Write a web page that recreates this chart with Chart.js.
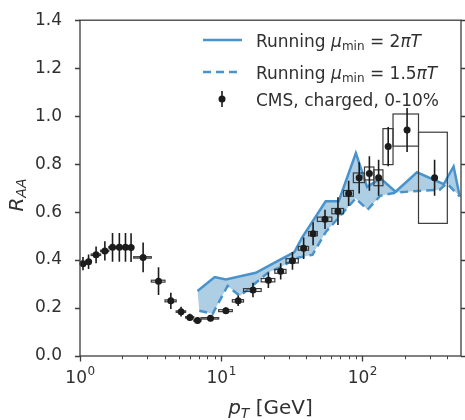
<!DOCTYPE html>
<html>
<head>
<meta charset="utf-8">
<script src="https://cdn.jsdelivr.net/npm/chart.js@4.4.1/dist/chart.umd.min.js"></script>
<style>
  html, body { margin: 0; padding: 0; background: #fff; }
  canvas { display: block; }
</style>
</head>
<body>
<canvas id="chart" width="465" height="420"></canvas>
<script>
// CMS charged-hadron R_AA, 0-10% centrality: pT bins (GeV), values, stat. and syst. uncertainties
const cmsBinLo = [1.0, 1.1, 1.2, 1.4, 1.6, 1.8, 2.0, 2.2, 2.4, 3.2, 4.0, 4.8, 5.6, 6.4, 7.2, 9.6,
                  12.0, 14.4, 19.2, 24.0, 28.8, 35.2, 41.6, 48.0, 60.8, 73.6, 86.4, 103.6, 120.8, 140, 165, 250];
const cmsBinHi = [1.1, 1.2, 1.4, 1.6, 1.8, 2.0, 2.2, 2.4, 3.2, 4.0, 4.8, 5.6, 6.4, 7.2, 9.6, 12.0,
                  14.4, 19.2, 24.0, 28.8, 35.2, 41.6, 48.0, 60.8, 73.6, 86.4, 103.6, 120.8, 140, 165, 250, 400];
const cmsPt    = [1.05, 1.15, 1.3, 1.5, 1.7, 1.9, 2.1, 2.3, 2.8, 3.6, 4.4, 5.2, 6.0, 6.8, 8.4, 10.8,
                  13.2, 16.8, 21.6, 26.4, 32.0, 38.4, 44.8, 54.4, 67.2, 80.0, 95.0, 112.2, 130.4, 152.5, 207.5, 325];
const cmsRaa   = [0.385, 0.393, 0.422, 0.438, 0.453, 0.453, 0.453, 0.452, 0.411, 0.312, 0.230, 0.185, 0.161, 0.148, 0.157, 0.189,
                  0.230, 0.275, 0.316, 0.353, 0.397, 0.449, 0.510, 0.570, 0.604, 0.678, 0.743, 0.761, 0.743, 0.873, 0.942, 0.743];
const cmsStat  = [0.028, 0.030, 0.035, 0.040, 0.060, 0.060, 0.060, 0.060, 0.062, 0.058, 0.034, 0.020, 0.015, 0.012, 0.012, 0.013,
                  0.022, 0.030, 0.032, 0.034, 0.037, 0.045, 0.048, 0.040, 0.058, 0.053, 0.065, 0.072, 0.075, 0.082, 0.092, 0.075];
const cmsSys   = [0.003, 0.003, 0.003, 0.003, 0.003, 0.003, 0.003, 0.003, 0.003, 0.004, 0.004, 0.003, 0.003, 0.003, 0.003, 0.004,
                  0.005, 0.006, 0.007, 0.008, 0.009, 0.008, 0.009, 0.009, 0.011, 0.012, 0.020, 0.027, 0.033, 0.075, 0.067, 0.190];

// Model curves: running coupling with mu_min = 2 pi T (solid) and 1.5 pi T (dashed)
const run2PiPt   = [6.8, 9.0, 10.8, 17.6, 25.8, 33, 37.5, 55, 68, 90, 108, 135, 172, 244, 377, 443, 490];
const run2PiRaa  = [0.271, 0.329, 0.319, 0.347, 0.400, 0.433, 0.495, 0.645, 0.645, 0.846, 0.705, 0.740, 0.685, 0.766, 0.716, 0.790, 0.665];
const run15PiPt  = [7.0, 8.7, 11.1, 13.6, 21.3, 27.2, 33.8, 44.3, 55.1, 70, 89.7, 109, 134, 176, 245, 353, 397, 490];
const run15PiRaa = [0.189, 0.176, 0.292, 0.250, 0.346, 0.374, 0.408, 0.422, 0.517, 0.585, 0.657, 0.610, 0.668, 0.682, 0.688, 0.693, 0.720, 0.665];

// Axis ticks
const yTickValues  = [0, 0.2, 0.4, 0.6, 0.8, 1.0, 1.2, 1.4];
const xTickValues  = [1, 10, 100];
const xTickBase    = '10';
const xTickExps    = ['0', '1', '2'];
const xMinorValues = [2, 3, 4, 5, 6, 7, 8, 9, 20, 30, 40, 50, 60, 70, 80, 90, 200, 300, 400];

const FONT = "'DejaVu Sans', 'Liberation Sans', sans-serif";
const INK = '#303030';
const MARK = '#1c1c1c';
const LINE_BLUE = '#4893cc';
const FILL_BLUE = 'rgba(31,119,180,0.36)';

Chart.defaults.font.family = FONT;
Chart.defaults.color = INK;

const toPoints = (xs, ys) => xs.map((x, i) => ({ x: x, y: ys[i] }));

// Shaded band between the two model curves
const modelBand = {
  id: 'modelBand',
  beforeDatasetsDraw(chart) {
    const { ctx, chartArea: a, scales: { x, y } } = chart;
    ctx.save();
    ctx.beginPath();
    ctx.rect(a.left, a.top, a.right - a.left, a.bottom - a.top);
    ctx.clip();
    ctx.beginPath();
    run2PiPt.forEach((p, i) => {
      const px = x.getPixelForValue(p), py = y.getPixelForValue(run2PiRaa[i]);
      if (i === 0) ctx.moveTo(px, py); else ctx.lineTo(px, py);
    });
    for (let i = run15PiPt.length - 1; i >= 0; i--) {
      ctx.lineTo(x.getPixelForValue(run15PiPt[i]), y.getPixelForValue(run15PiRaa[i]));
    }
    ctx.closePath();
    ctx.fillStyle = FILL_BLUE;
    ctx.fill();
    ctx.restore();
  }
};

// Stat. error bars and syst. boxes for the CMS points
const cmsErrors = {
  id: 'cmsErrors',
  beforeDatasetDraw(chart, args) {
    if (args.index !== 0) return;
    const { ctx, scales: { x, y } } = chart;
    ctx.save();
    ctx.strokeStyle = '#3a3a3a';
    ctx.lineWidth = 1.2;
    for (let i = 0; i < cmsPt.length; i++) {
      const x0 = x.getPixelForValue(cmsBinLo[i]);
      const x1 = x.getPixelForValue(cmsBinHi[i]);
      const y0 = y.getPixelForValue(cmsRaa[i] + cmsSys[i]);
      const y1 = y.getPixelForValue(cmsRaa[i] - cmsSys[i]);
      ctx.strokeRect(x0, y0, x1 - x0, y1 - y0);
    }
    ctx.strokeStyle = MARK;
    ctx.lineWidth = 1.6;
    ctx.beginPath();
    for (let i = 0; i < cmsPt.length; i++) {
      const px = x.getPixelForValue(cmsPt[i]);
      ctx.moveTo(px, y.getPixelForValue(cmsRaa[i] + cmsStat[i]));
      ctx.lineTo(px, y.getPixelForValue(cmsRaa[i] - cmsStat[i]));
    }
    ctx.stroke();
    ctx.restore();
  }
};

// Frame, tick marks, x tick labels, axis titles and legend
const decorations = {
  id: 'decorations',
  afterDraw(chart) {
    const { ctx, chartArea: a, scales: { x, y } } = chart;
    ctx.save();
    ctx.strokeStyle = '#3c3c3c';
    ctx.lineWidth = 1.3;
    ctx.strokeRect(a.left, a.top, a.right - a.left, a.bottom - a.top);

    ctx.beginPath();
    yTickValues.forEach(v => {
      const py = Math.round(y.getPixelForValue(v)) + 0.5;
      ctx.moveTo(a.left - 5, py); ctx.lineTo(a.left, py);
      ctx.moveTo(a.right, py); ctx.lineTo(a.right + 5, py);
    });
    xTickValues.forEach(v => {
      const px = Math.round(x.getPixelForValue(v)) + 0.5;
      ctx.moveTo(px, a.bottom); ctx.lineTo(px, a.bottom + 5.5);
    });
    ctx.stroke();
    ctx.lineWidth = 1;
    ctx.beginPath();
    xMinorValues.forEach(v => {
      const px = Math.round(x.getPixelForValue(v)) + 0.5;
      ctx.moveTo(px, a.bottom); ctx.lineTo(px, a.bottom + 3.2);
    });
    ctx.stroke();

    ctx.fillStyle = INK;
    ctx.textBaseline = 'alphabetic';

    // x tick labels: powers of ten
    xTickValues.forEach((v, i) => {
      ctx.font = '17px ' + FONT;
      const wb = ctx.measureText(xTickBase).width;
      ctx.font = '12px ' + FONT;
      const we = ctx.measureText(xTickExps[i]).width;
      const left = x.getPixelForValue(v) - (wb + we) / 2;
      ctx.font = '17px ' + FONT;
      ctx.fillText(xTickBase, left, 382.5);
      ctx.font = '12px ' + FONT;
      ctx.fillText(xTickExps[i], left + wb + 0.5, 375);
    });

    // y title: R_AA
    ctx.save();
    ctx.translate(23, 195);
    ctx.rotate(-Math.PI / 2);
    ctx.font = 'italic 20px ' + FONT;
    const wR = ctx.measureText('R').width;
    ctx.font = 'italic 14px ' + FONT;
    const wAA = ctx.measureText('AA').width;
    const sx = -(wR + wAA) / 2;
    ctx.font = 'italic 20px ' + FONT;
    ctx.fillText('R', sx, 0);
    ctx.font = 'italic 14px ' + FONT;
    ctx.fillText('AA', sx + wR, 3);
    ctx.restore();

    // x title: p_T [GeV]
    ctx.font = 'italic 20px ' + FONT;
    const wp = ctx.measureText('p').width;
    ctx.font = 'italic 14px ' + FONT;
    const wT = ctx.measureText('T').width;
    ctx.font = '20px ' + FONT;
    const wRest = ctx.measureText(' [GeV]').width;
    let tx = (a.left + a.right) / 2 - (wp + wT + wRest) / 2;
    const tb = 414;
    ctx.font = 'italic 20px ' + FONT;
    ctx.fillText('p', tx, tb); tx += wp;
    ctx.font = 'italic 14px ' + FONT;
    ctx.fillText('T', tx, tb + 3.5); tx += wT;
    ctx.font = '20px ' + FONT;
    ctx.fillText(' [GeV]', tx, tb);

    // legend
    const runs = [
      { coef: '2', y: 40, dash: [] },
      { coef: '1.5', y: 72, dash: [8, 5] }
    ];
    runs.forEach(r => {
      ctx.strokeStyle = LINE_BLUE;
      ctx.lineWidth = 2.5;
      ctx.setLineDash(r.dash);
      ctx.beginPath();
      ctx.moveTo(203, r.y); ctx.lineTo(242, r.y);
      ctx.stroke();
      ctx.setLineDash([]);
      const base = r.y + 6.5;
      let lx = 256;
      const put = (txt, font, dy) => {
        ctx.font = font;
        ctx.fillText(txt, lx, base + (dy || 0));
        lx += ctx.measureText(txt).width;
      };
      put('Running ', '17px ' + FONT);
      put('\u03bc', 'italic 17px ' + FONT);
      put('min', '12px ' + FONT, 3.5);
      put(' = ' + r.coef, '17px ' + FONT);
      put('\u03c0', 'italic 17px ' + FONT);
      put('T', 'italic 17px ' + FONT);
    });
    ctx.strokeStyle = MARK;
    ctx.lineWidth = 1.6;
    ctx.beginPath();
    ctx.moveTo(222, 91); ctx.lineTo(222, 107);
    ctx.stroke();
    ctx.fillStyle = MARK;
    ctx.beginPath();
    ctx.arc(222, 99, 3.5, 0, Math.PI * 2);
    ctx.fill();
    ctx.fillStyle = INK;
    ctx.font = '17px ' + FONT;
    ctx.fillText('CMS, charged, 0-10%', 256, 105.5);
    ctx.restore();
  }
};

new Chart(document.getElementById('chart'), {
  type: 'line',
  data: {
    datasets: [
      {
        label: 'CMS, charged, 0-10%',
        data: toPoints(cmsPt, cmsRaa),
        showLine: false,
        pointRadius: 3.5,
        pointBackgroundColor: MARK,
        pointBorderWidth: 0,
        fill: false
      },
      {
        label: 'Running \u03bc_min = 2\u03c0T',
        data: toPoints(run2PiPt, run2PiRaa),
        borderColor: LINE_BLUE,
        borderWidth: 2.5,
        pointRadius: 0,
        tension: 0,
        fill: false
      },
      {
        label: 'Running \u03bc_min = 1.5\u03c0T',
        data: toPoints(run15PiPt, run15PiRaa),
        borderColor: LINE_BLUE,
        borderWidth: 2.5,
        borderDash: [8, 5],
        pointRadius: 0,
        tension: 0,
        fill: false
      }
    ]
  },
  options: {
    responsive: false,
    animation: false,
    devicePixelRatio: 1,
    layout: { padding: { top: 15, right: 3, left: 0, bottom: 0 } },
    plugins: { legend: { display: false }, tooltip: { enabled: false } },
    scales: {
      x: {
        type: 'logarithmic',
        min: 1,
        max: 500,
        grid: { display: false },
        border: { display: false },
        afterBuildTicks: s => { s.ticks = xTickValues.map(v => ({ value: v })); },
        afterFit: s => { s.height = 64; },
        ticks: { display: false }
      },
      y: {
        type: 'linear',
        min: 0,
        max: 1.4,
        grid: { display: false },
        border: { display: false },
        afterBuildTicks: s => { s.ticks = yTickValues.map(v => ({ value: v })); },
        afterFit: s => { s.width = 80; },
        ticks: {
          padding: 10,
          font: { size: 17 },
          color: INK,
          callback: v => v.toFixed(1)
        }
      }
    }
  },
  plugins: [modelBand, cmsErrors, decorations]
});
</script>
</body>
</html>
